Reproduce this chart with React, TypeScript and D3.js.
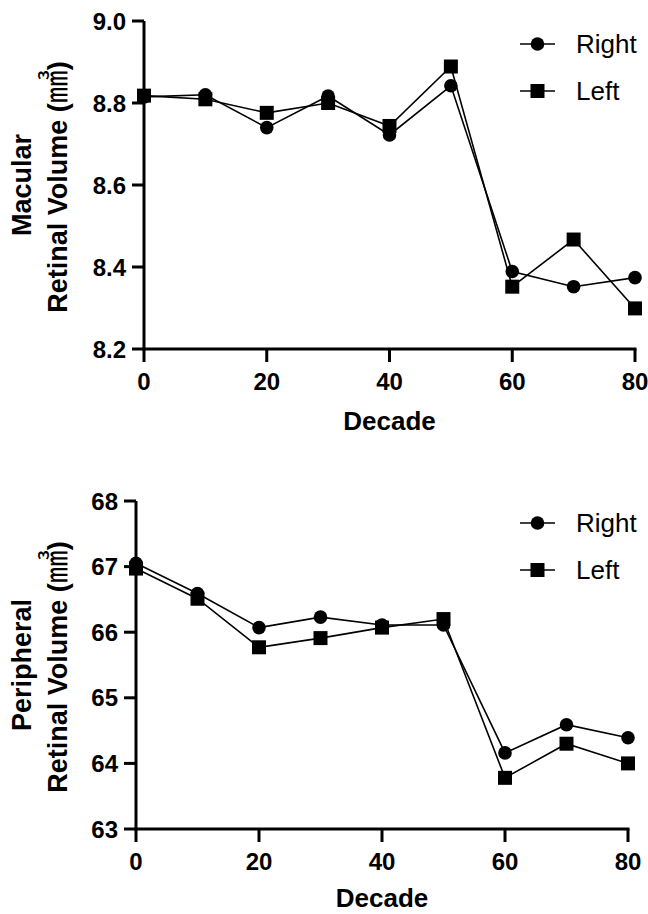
import React from "react";
import * as d3 from "d3";

const decades = [0, 10, 20, 30, 40, 50, 60, 70, 80];
const xTicks = [0, 20, 40, 60, 80];

const macularRight = [8.815, 8.82, 8.74, 8.817, 8.722, 8.842, 8.389, 8.352, 8.374];
const macularLeft = [8.818, 8.809, 8.776, 8.8, 8.744, 8.889, 8.352, 8.467, 8.299];
const macularTicks = [8.2, 8.4, 8.6, 8.8, 9.0];

const periphRight = [67.05, 66.59, 66.07, 66.23, 66.11, 66.11, 64.16, 64.59, 64.39];
const periphLeft = [66.97, 66.51, 65.77, 65.91, 66.07, 66.2, 63.78, 64.3, 64.0];
const periphTicks = [63, 64, 65, 66, 67, 68];

const FONT = "'Liberation Sans', Arial, Helvetica, sans-serif";

type PanelProps = {
  x0: number; x1: number; yTop: number; yBot: number;
  yDomain: [number, number]; yTicks: number[]; fmt: (v: number) => string;
  right: number[]; left: number[]; title1: string;
  legendX: number; legendY: number; decadeY: number;
};

function Panel(p: PanelProps) {
  const x = d3.scaleLinear().domain([0, 80]).range([p.x0, p.x1]);
  const y = d3.scaleLinear().domain(p.yDomain).range([p.yBot, p.yTop]);
  const line = d3.line<number>().x((_, i) => x(decades[i])).y((v) => y(v));
  const yc = (p.yTop + p.yBot) / 2;
  const xc = (p.x0 + p.x1) / 2;
  const sq = 14;
  const r = 6.8;
  return (
    <g>
      {/* axes */}
      <line x1={p.x0} x2={p.x0} y1={p.yTop} y2={p.yBot + 1.5} stroke="#000" strokeWidth={3} />
      <line x1={p.x0 - 1.5} x2={p.x1 + 1.5} y1={p.yBot} y2={p.yBot} stroke="#000" strokeWidth={3} />
      {p.yTicks.map((t) => (
        <g key={"y" + t}>
          <line x1={p.x0 - 12} x2={p.x0} y1={y(t)} y2={y(t)} stroke="#000" strokeWidth={3} />
          <text x={p.x0 - 18} y={y(t) + 8.5} textAnchor="end" fontFamily={FONT} fontWeight="bold" fontSize={24}>
            {p.fmt(t)}
          </text>
        </g>
      ))}
      {xTicks.map((t) => (
        <g key={"x" + t}>
          <line x1={x(t)} x2={x(t)} y1={p.yBot} y2={p.yBot + 13} stroke="#000" strokeWidth={3} />
          <text x={x(t)} y={p.yBot + 41} textAnchor="middle" fontFamily={FONT} fontWeight="bold" fontSize={24}>
            {t}
          </text>
        </g>
      ))}
      <text x={xc} y={p.decadeY} textAnchor="middle" fontFamily={FONT} fontWeight="bold" fontSize={26}>
        Decade
      </text>
      {/* y title */}
      <text transform={`translate(31,${yc}) rotate(-90)`} textAnchor="middle" fontFamily={FONT} fontWeight="bold" fontSize={27}>
        {p.title1}
      </text>
      <text transform={`translate(67,${yc + 2}) rotate(-90)`} textAnchor="middle" fontFamily={FONT} fontWeight="bold" fontSize={27}>
        Retinal Volume (
        <tspan fontFamily="'Noto Sans CJK SC'" fontWeight="normal" fontSize={33}>㎣</tspan>
        )
      </text>
      {/* data lines */}
      <path d={line(p.right) || ""} fill="none" stroke="#000" strokeWidth={1.6} />
      <path d={line(p.left) || ""} fill="none" stroke="#000" strokeWidth={1.6} />
      {p.right.map((v, i) => (
        <circle key={"r" + i} cx={x(decades[i])} cy={y(v)} r={r} fill="#000" />
      ))}
      {p.left.map((v, i) => (
        <rect key={"l" + i} x={x(decades[i]) - sq / 2} y={y(v) - sq / 2} width={sq} height={sq} fill="#000" />
      ))}
      {/* legend */}
      <line x1={p.legendX} x2={p.legendX + 35} y1={p.legendY} y2={p.legendY} stroke="#000" strokeWidth={1.6} />
      <circle cx={p.legendX + 17.5} cy={p.legendY} r={r} fill="#000" />
      <text x={p.legendX + 56} y={p.legendY + 9} fontFamily={FONT} fontSize={26}>Right</text>
      <line x1={p.legendX} x2={p.legendX + 35} y1={p.legendY + 47} y2={p.legendY + 47} stroke="#000" strokeWidth={1.6} />
      <rect x={p.legendX + 17.5 - sq / 2} y={p.legendY + 47 - sq / 2} width={sq} height={sq} fill="#000" />
      <text x={p.legendX + 56} y={p.legendY + 56} fontFamily={FONT} fontSize={26}>Left</text>
    </g>
  );
}

export default function App() {
  return (
    <svg width={648} height={914} style={{ position: "absolute", left: 0, top: 0, background: "#fff" }}>
      <rect width={648} height={914} fill="#fff" />
      <Panel
        x0={144} x1={635} yTop={21} yBot={349}
        yDomain={[8.2, 9.0]} yTicks={macularTicks} fmt={(v) => v.toFixed(1)}
        right={macularRight} left={macularLeft} title1="Macular"
        legendX={520} legendY={44} decadeY={430}
      />
      <Panel
        x0={136} x1={628} yTop={501} yBot={829}
        yDomain={[63, 68]} yTicks={periphTicks} fmt={(v) => String(v)}
        right={periphRight} left={periphLeft} title1="Peripheral"
        legendX={520} legendY={523} decadeY={907}
      />
    </svg>
  );
}
